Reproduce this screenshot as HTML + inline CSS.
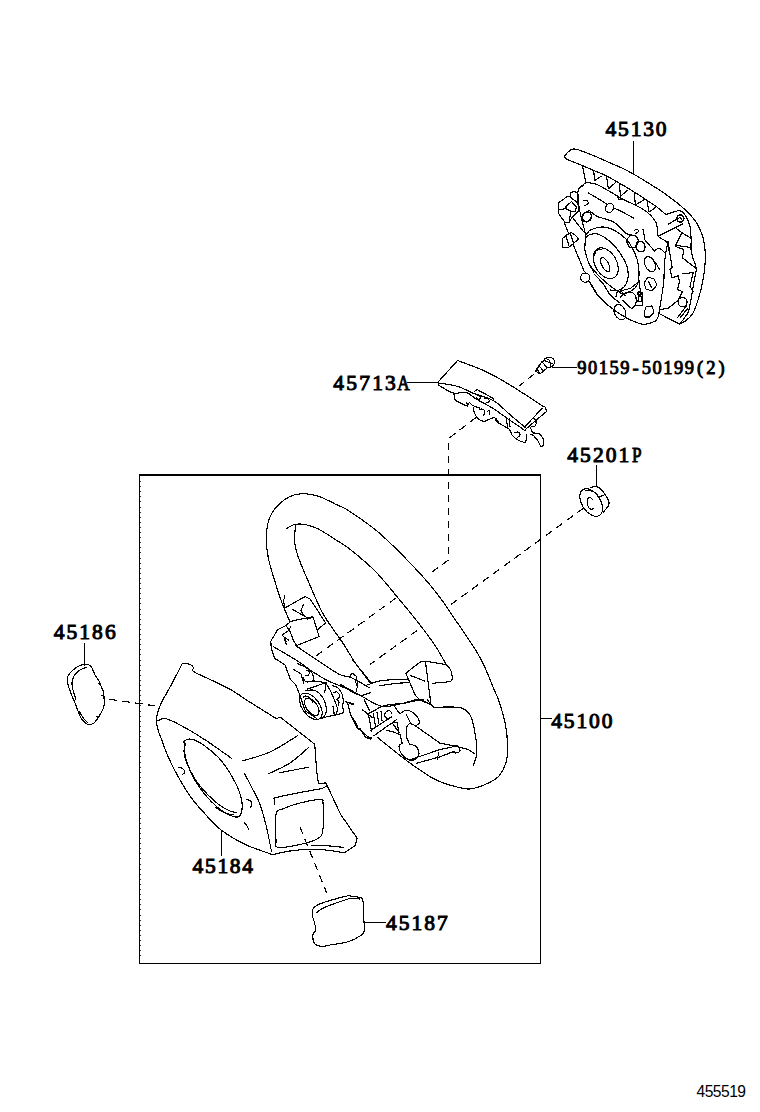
<!DOCTYPE html>
<html><head><meta charset="utf-8">
<style>
html,body{margin:0;padding:0;background:#fff;width:760px;height:1112px;overflow:hidden}
svg{display:block;shape-rendering:crispEdges}
.lb{font-family:"Liberation Serif",serif;font-size:21.5px;fill:#000;stroke:#000;stroke-width:0.8}
.ln{stroke:#000;stroke-width:1.15;fill:none;stroke-linejoin:round;stroke-linecap:round}
.lw{stroke:#000;stroke-width:1.15;fill:#fff;stroke-linejoin:round;stroke-linecap:round}
.th{stroke:#000;stroke-width:1.6;fill:none;stroke-linejoin:round;stroke-linecap:round}
.ds{stroke:#000;stroke-width:1.15;fill:none;stroke-dasharray:7.6 5.4}
</style></head><body>
<svg width="760" height="1112" viewBox="0 0 760 1112">
<!-- 00_frame.py -->
<path d="M139.5 963.2 V474.8" stroke="#000" stroke-width="1.3" fill="none"/>
<path d="M139 475 H541" stroke="#000" stroke-width="1.9" fill="none"/>
<path d="M540.4 474 V963.7 M139 963.2 H541" stroke="#000" stroke-width="1.4" fill="none"/>
<path d="M140 481.5 h1.2 M140 486.6 h1.2 M140 491.7 h1.2 M140 496.8 h1.2 M140 501.9 h1.2 M140 507.0 h1.2 M140 512.1 h1.2 M140 517.2 h1.2 M140 522.3 h1.2 M140 527.4 h1.2 M140 532.5 h1.2 M140 537.6 h1.2 M140 542.7 h1.2 M140 547.8 h1.2 M140 552.9 h1.2 M140 558.0 h1.2 M140 563.1 h1.2 M140 568.2 h1.2 M140 573.3 h1.2 M140 578.4 h1.2 M140 583.5 h1.2 M140 588.6 h1.2 M140 593.7 h1.2 M140 598.8 h1.2 M140 603.9 h1.2 M140 609.0 h1.2 M140 614.1 h1.2 M140 619.2 h1.2 M140 624.3 h1.2 M140 629.4 h1.2 M140 634.5 h1.2 M140 639.6 h1.2 M140 644.7 h1.2 M140 649.8 h1.2 M140 654.9 h1.2 M140 660.0 h1.2 M140 665.1 h1.2 M140 670.2 h1.2 M140 675.3 h1.2 M140 680.4 h1.2 M140 685.5 h1.2 M140 690.6 h1.2 M140 695.7 h1.2 M140 700.8 h1.2 M140 705.9 h1.2 M140 711.0 h1.2 M140 716.1 h1.2 M140 721.2 h1.2 M140 726.3 h1.2 M140 731.4 h1.2 M140 736.5 h1.2 M140 741.6 h1.2 M140 746.7 h1.2 M140 751.8 h1.2 M140 756.9 h1.2 M140 762.0 h1.2 M140 767.1 h1.2 M140 772.2 h1.2 M140 777.3 h1.2 M140 782.4 h1.2 M140 787.5 h1.2 M140 792.6 h1.2 M140 797.7 h1.2 M140 802.8 h1.2 M140 807.9 h1.2 M140 813.0 h1.2 M140 818.1 h1.2 M140 823.2 h1.2 M140 828.3 h1.2 M140 833.4 h1.2 M140 838.5 h1.2 M140 843.6 h1.2 M140 848.7 h1.2 M140 853.8 h1.2 M140 858.9 h1.2 M140 864.0 h1.2 M140 869.1 h1.2 M140 874.2 h1.2 M140 879.3 h1.2 M140 884.4 h1.2 M140 889.5 h1.2 M140 894.6 h1.2 M140 899.7 h1.2 M140 904.8 h1.2 M140 909.9 h1.2 M140 915.0 h1.2 M140 920.1 h1.2 M140 925.2 h1.2 M140 930.3 h1.2 M140 935.4 h1.2 M140 940.5 h1.2 M140 945.6 h1.2 M140 950.7 h1.2 M140 955.8 h1.2" stroke="#000" stroke-width="0.8" fill="none"/>
<text class="lb" text-anchor="middle" transform="translate(610.95 135.5) scale(1.0 1)" style="font-size:21.5px;stroke-width:1.0px">4</text>
<text class="lb" text-anchor="middle" transform="translate(623.47 135.5) scale(1.0 1)" style="font-size:21.5px;stroke-width:1.0px">5</text>
<text class="lb" text-anchor="middle" transform="translate(636.00 135.5) scale(1.0 1)" style="font-size:21.5px;stroke-width:1.0px">1</text>
<text class="lb" text-anchor="middle" transform="translate(648.53 135.5) scale(1.0 1)" style="font-size:21.5px;stroke-width:1.0px">3</text>
<text class="lb" text-anchor="middle" transform="translate(661.05 135.5) scale(1.0 1)" style="font-size:21.5px;stroke-width:1.0px">0</text>
<text class="lb" text-anchor="middle" transform="translate(338.64 390) scale(1.0 1)" style="font-size:21.5px;stroke-width:1.0px">4</text>
<text class="lb" text-anchor="middle" transform="translate(351.61 390) scale(1.0 1)" style="font-size:21.5px;stroke-width:1.0px">5</text>
<text class="lb" text-anchor="middle" transform="translate(364.57 390) scale(1.0 1)" style="font-size:21.5px;stroke-width:1.0px">7</text>
<text class="lb" text-anchor="middle" transform="translate(377.53 390) scale(1.0 1)" style="font-size:21.5px;stroke-width:1.0px">1</text>
<text class="lb" text-anchor="middle" transform="translate(390.49 390) scale(1.0 1)" style="font-size:21.5px;stroke-width:1.0px">3</text>
<text class="lb" text-anchor="middle" transform="translate(403.45 390) scale(0.8 1)" style="font-size:21.5px;stroke-width:1.0px">A</text>
<text class="lb" text-anchor="middle" transform="translate(581.75 373.7) scale(1.0 1)" style="font-size:18.5px;stroke-width:0.9px">9</text>
<text class="lb" text-anchor="middle" transform="translate(592.51 373.7) scale(1.0 1)" style="font-size:18.5px;stroke-width:0.9px">0</text>
<text class="lb" text-anchor="middle" transform="translate(603.26 373.7) scale(1.0 1)" style="font-size:18.5px;stroke-width:0.9px">1</text>
<text class="lb" text-anchor="middle" transform="translate(614.01 373.7) scale(1.0 1)" style="font-size:18.5px;stroke-width:0.9px">5</text>
<text class="lb" text-anchor="middle" transform="translate(624.77 373.7) scale(1.0 1)" style="font-size:18.5px;stroke-width:0.9px">9</text>
<text class="lb" text-anchor="middle" transform="translate(635.52 373.7) scale(1.0 1)" style="font-size:18.5px;stroke-width:0.9px">-</text>
<text class="lb" text-anchor="middle" transform="translate(646.27 373.7) scale(1.0 1)" style="font-size:18.5px;stroke-width:0.9px">5</text>
<text class="lb" text-anchor="middle" transform="translate(657.03 373.7) scale(1.0 1)" style="font-size:18.5px;stroke-width:0.9px">0</text>
<text class="lb" text-anchor="middle" transform="translate(667.78 373.7) scale(1.0 1)" style="font-size:18.5px;stroke-width:0.9px">1</text>
<text class="lb" text-anchor="middle" transform="translate(678.53 373.7) scale(1.0 1)" style="font-size:18.5px;stroke-width:0.9px">9</text>
<text class="lb" text-anchor="middle" transform="translate(689.29 373.7) scale(1.0 1)" style="font-size:18.5px;stroke-width:0.9px">9</text>
<text class="lb" text-anchor="middle" transform="translate(700.04 373.7) scale(1.0 1)" style="font-size:18.5px;stroke-width:0.9px">(</text>
<text class="lb" text-anchor="middle" transform="translate(710.79 373.7) scale(1.0 1)" style="font-size:18.5px;stroke-width:0.9px">2</text>
<text class="lb" text-anchor="middle" transform="translate(721.54 373.7) scale(1.0 1)" style="font-size:18.5px;stroke-width:0.9px">)</text>
<text class="lb" text-anchor="middle" transform="translate(572.65 461.9) scale(1.0 1)" style="font-size:21.5px;stroke-width:1.0px">4</text>
<text class="lb" text-anchor="middle" transform="translate(585.47 461.9) scale(1.0 1)" style="font-size:21.5px;stroke-width:1.0px">5</text>
<text class="lb" text-anchor="middle" transform="translate(598.29 461.9) scale(1.0 1)" style="font-size:21.5px;stroke-width:1.0px">2</text>
<text class="lb" text-anchor="middle" transform="translate(611.11 461.9) scale(1.0 1)" style="font-size:21.5px;stroke-width:1.0px">0</text>
<text class="lb" text-anchor="middle" transform="translate(623.93 461.9) scale(1.0 1)" style="font-size:21.5px;stroke-width:1.0px">1</text>
<text class="lb" text-anchor="middle" transform="translate(636.75 461.9) scale(0.8 1)" style="font-size:21.5px;stroke-width:1.0px">P</text>
<text class="lb" text-anchor="middle" transform="translate(59.15 639.3) scale(1.0 1)" style="font-size:21.5px;stroke-width:1.0px">4</text>
<text class="lb" text-anchor="middle" transform="translate(71.92 639.3) scale(1.0 1)" style="font-size:21.5px;stroke-width:1.0px">5</text>
<text class="lb" text-anchor="middle" transform="translate(84.70 639.3) scale(1.0 1)" style="font-size:21.5px;stroke-width:1.0px">1</text>
<text class="lb" text-anchor="middle" transform="translate(97.48 639.3) scale(1.0 1)" style="font-size:21.5px;stroke-width:1.0px">8</text>
<text class="lb" text-anchor="middle" transform="translate(110.25 639.3) scale(1.0 1)" style="font-size:21.5px;stroke-width:1.0px">6</text>
<text class="lb" text-anchor="middle" transform="translate(197.94 872.7) scale(1.0 1)" style="font-size:21.5px;stroke-width:1.0px">4</text>
<text class="lb" text-anchor="middle" transform="translate(210.35 872.7) scale(1.0 1)" style="font-size:21.5px;stroke-width:1.0px">5</text>
<text class="lb" text-anchor="middle" transform="translate(222.75 872.7) scale(1.0 1)" style="font-size:21.5px;stroke-width:1.0px">1</text>
<text class="lb" text-anchor="middle" transform="translate(235.15 872.7) scale(1.0 1)" style="font-size:21.5px;stroke-width:1.0px">8</text>
<text class="lb" text-anchor="middle" transform="translate(247.56 872.7) scale(1.0 1)" style="font-size:21.5px;stroke-width:1.0px">4</text>
<text class="lb" text-anchor="middle" transform="translate(391.25 930.4) scale(1.0 1)" style="font-size:21.5px;stroke-width:1.0px">4</text>
<text class="lb" text-anchor="middle" transform="translate(404.05 930.4) scale(1.0 1)" style="font-size:21.5px;stroke-width:1.0px">5</text>
<text class="lb" text-anchor="middle" transform="translate(416.85 930.4) scale(1.0 1)" style="font-size:21.5px;stroke-width:1.0px">1</text>
<text class="lb" text-anchor="middle" transform="translate(429.65 930.4) scale(1.0 1)" style="font-size:21.5px;stroke-width:1.0px">8</text>
<text class="lb" text-anchor="middle" transform="translate(442.45 930.4) scale(1.0 1)" style="font-size:21.5px;stroke-width:1.0px">7</text>
<text class="lb" text-anchor="middle" transform="translate(556.55 727.6) scale(1.0 1)" style="font-size:21.5px;stroke-width:1.0px">4</text>
<text class="lb" text-anchor="middle" transform="translate(569.17 727.6) scale(1.0 1)" style="font-size:21.5px;stroke-width:1.0px">5</text>
<text class="lb" text-anchor="middle" transform="translate(581.80 727.6) scale(1.0 1)" style="font-size:21.5px;stroke-width:1.0px">1</text>
<text class="lb" text-anchor="middle" transform="translate(594.43 727.6) scale(1.0 1)" style="font-size:21.5px;stroke-width:1.0px">0</text>
<text class="lb" text-anchor="middle" transform="translate(607.05 727.6) scale(1.0 1)" style="font-size:21.5px;stroke-width:1.0px">0</text>
<text transform="translate(696.5 1097.2)" style="font-family:'Liberation Sans',sans-serif;font-size:15.6px;letter-spacing:-0.5px" fill="#000">455519</text>
<path class="ln" d="M633.3 142 V173" />
<path class="ln" d="M408 382.6 H438" />
<path class="ln" d="M552.6 367.5 H576.5" />
<path class="ln" d="M596.6 465.5 V486.5" />
<path class="ln" d="M84.6 644 V665" />
<path class="ln" d="M221.1 830 V855.5" />
<path class="ln" d="M364.5 922.8 H386" />
<path class="ln" d="M540.5 718.4 H551" />
<!-- 05_dash.py -->
<path class="ds" d="M476 417.5 L448.4 438.7 V560 L432 572" />
<path class="ds" d="M396 598 L316 656" />
<path class="ds" d="M583.4 508.2 L451 604.5" />
<path class="ds" d="M417 630.5 L370 664.5" />
<path class="ds" d="M534 374.2 L519 386" />
<path class="ds" d="M109.3 699.3 L156 706" />
<path class="ds" d="M300 827 L326.8 893.2" />
<!-- 10_wheel.py -->
<path class="ln" d="M290 622 C288.7 618.8 284.4 609.5 282 603 C279.6 596.5 277.6 590.4 275.4 583 C273.1 575.6 270 566.3 268.5 558.7 C267 551.1 266 544.4 266.2 537.6 C266.4 530.8 267.6 523.3 269.5 518 C271.4 512.7 274.1 509.5 277.4 506 C280.7 502.5 285 498.9 289.2 496.8 C293.4 494.7 297.6 493.7 302.4 493.6 C307.2 493.5 312.5 494.4 318.2 496.2 C323.9 498 331.3 502.1 336.6 504.7 C341.9 507.2 343.2 507 350 511.5 C356.8 516 368.8 524.3 377.6 531.6 C386.4 538.9 394.9 547.6 402.6 555.3 C410.3 563 417.3 570.4 423.7 577.6 C430.1 584.8 435.9 592.2 440.8 598.7 C445.7 605.2 447.6 608.5 452.9 616.3 C458.2 624.1 467.6 637.4 472.6 645.3 C477.7 653.2 479.7 656.5 483.2 663.7 C486.7 670.9 491.1 682.5 493.7 688.7 C496.3 694.9 496.9 695 498.9 701 C500.9 707 504.1 717.2 505.5 724.7 C506.9 732.2 507.4 739.6 507.5 745.8 C507.6 751.9 507.6 756.6 506.2 761.6 C504.8 766.6 502 772.4 498.9 776 C495.8 779.6 492.2 781.3 487.4 783.5 C482.6 785.7 475.3 788.5 470 789 C464.7 789.5 460.3 787.8 455.5 786.6 C450.7 785.4 445.2 783.7 441 782 C436.8 780.3 435.5 780 430 776.6 C424.5 773.2 416.7 768.2 407.9 761.6 C399.1 755 382.2 741.2 377.1 737.1" />
<path class="ln" d="M286.6 528.4 C287.9 527.8 291.4 525.1 294.5 524.5 C297.6 523.9 301.1 523.8 305 524.5 C308.9 525.2 312.9 526.4 318.2 529 C323.5 531.6 331.3 536.9 336.6 540.3 C341.9 543.7 343.6 544.2 350 549.3 C356.4 554.4 366.9 562.8 375 571 C383.1 579.2 391.2 589.7 398.7 598.7 C406.2 607.7 413.8 616.9 420 624.9 C426.2 632.9 431.4 639.9 435.8 646.6 C440.2 653.3 444.6 661.9 446.3 665" />
<path class="ln" d="M295.8 525 C295.6 527.5 294.1 534.9 294.5 540.3 C294.9 545.7 296 550.3 298.4 557.4 C300.8 564.5 305.2 574.2 309 583 C312.8 591.8 317.7 603.3 321 610 C324.3 616.7 325.2 617.5 329 623.2 C332.8 628.9 339 637.2 343.5 644 C348 650.8 351.5 657.5 356 664 C360.5 670.5 368.1 680 370.5 683.2" />
<path class="ln" d="M434.2 707.9 C435.5 707.8 437.6 707.1 442.1 707.1 C446.6 707.1 456.3 706.5 461 707.9 C465.7 709.3 468.1 711.3 470.5 715.8 C472.9 720.3 474.2 728.4 475.3 734.7 C476.4 741 477.1 748.6 476.8 753.7 C476.5 758.8 473.9 763.5 473.3 765.5" />
<!-- 11_hub.py -->
<path class="ln" d="M285 595 L283.4 601.3 L285 608" />
<path class="ln" d="M285.5 607.6 L305 596.6 L310.3 599.2 L325.5 622.9 L317.6 629.7" />
<path class="ln" d="M290.8 621.3 L312.9 616.6 L319.2 636.6 L296.6 645.5 L293.4 640.3 L289.7 630.8 L286 625.5" />
<path class="ln" d="M292.4 609.2 L305 616.6 L300.8 610.8 L303.4 604.5" />
<path class="ln" d="M307.1 619.2 L312.9 617.1" />
<path class="ln" d="M290.8 621.3 L286 625.5 L277.6 629.7 L270.8 641.3 L271.3 648.7 L274.5 658.2 L285 665 L290.5 679.5 L295.8 684.7 L301 698.4 L305.3 711 L316.8 718.4" />
<path class="ln" d="M291 626.2 L288.3 630.8 L283.1 634.1 L282.4 635.4 L284.4 637.4 L286.3 644.6" />
<path class="ln" d="M285 637.4 L288.3 640" />
<path class="ln" d="M284.5 640.5 L287 642" />
<path class="ln" d="M273.4 646.6 C277.8 649.2 293.3 658.3 299.7 662.4 C306.1 666.5 307 668 311.6 671 C316.2 674 321.8 677.7 327.4 680.5 C333 683.3 339.6 685.5 345 688 C350.4 690.5 355.8 694.5 360 695.3 C364.2 696.1 368.8 693 370.5 692.6" />
<path class="ln" d="M295.5 645.5 C299.2 648 310.4 655.5 317.6 660.3 C324.9 665.1 333.5 671.4 339 674.2 C344.5 677.1 346.1 675.5 350.5 677.4 C354.9 679.2 362.1 683.5 365.3 685.3 C368.5 687 368.8 687.5 369.5 687.9" />
<path class="ln" d="M349 678 L352 673 L356 676 L358 684 L356 692" />
<path class="ln" d="M355 680 L357 686" />
<ellipse class="ln" cx="310.9" cy="706.4" rx="15.2" ry="8.6" transform="rotate(54 310.9 706.4)"/>
<ellipse class="ln" cx="311.8" cy="706.8" rx="10" ry="5.4" transform="rotate(54 311.8 706.8)"/>
<path class="ln" d="M303.5 697 C303.9 696.8 304.9 695.8 306 696 C307.1 696.2 308.8 696.8 310 698 C311.2 699.2 312.5 702.2 313 703" />
<path class="ln" d="M305.8 690.5 C307.4 690.5 312.4 689.2 315.3 690.5 C318.2 691.8 321.4 695.5 323.2 698.4 C325 701.3 326.1 705 326.3 707.9 C326.6 710.8 325.8 713.9 324.7 715.8 C323.6 717.6 320.8 718.5 320 719" />
<path class="ln" d="M312.1 681 C313.4 681.1 317.6 681 320 681.5 C322.4 682 324.5 682.4 326.3 684.2 C328.1 686 329.4 688.9 331 692.1 C332.6 695.3 334.7 700.3 335.8 703.2 C336.9 706.1 337.4 707.5 337.4 709.5 C337.4 711.5 336.2 714.1 336 715" />
<path class="ln" d="M307.4 689 L316.8 685.8 L326.3 682.6" />
<path class="ln" d="M326.3 682.6 L324.7 692.1" />
<path class="ln" d="M320 719 L326 717 L336 715 L343.7 712.6 L342.1 703.2" />
<path class="ln" d="M334.2 714.2 L333 706" />
<path class="ln" d="M345.3 701.6 L353.2 704.7" />
<path class="ln" d="M297.9 663.7 C299.5 664.5 305 666.8 307.4 668.4 C309.8 670 311.2 671.2 312.1 673.2 C313 675.2 313.9 678.9 312.9 680.3 C311.8 681.7 307.4 682.2 305.8 681.8 C304.2 681.4 303.8 678.5 303.4 677.9" />
<path class="ln" d="M306 670 C306.5 670.2 308.6 670.7 309 671.5 C309.4 672.3 309.2 674.2 308.5 675 C307.8 675.8 305.6 675.8 305 676" />
<path class="ln" d="M293 669 L301 674 L304 684" />
<path class="ln" d="M332.6 685.8 C333.5 686.2 336.4 686.6 338 688 C339.6 689.4 341.1 691.5 342 694 C342.9 696.5 343.4 701.7 343.7 703.2" />
<path class="ln" d="M333 693 C333.7 692.8 335.9 691.5 337 692 C338.1 692.5 339.5 694.7 339.5 696 C339.5 697.3 337.4 699.3 337 700" />
<path class="ln" d="M336 699 C336.5 699.5 338.7 700.8 339 702 C339.3 703.2 338.2 705.3 338 706" />
<path class="ln" d="M347.4 702.1 L350.5 714.7 L356.8 727.4 L369.5 737.9 L371.6 738" />
<path class="ln" d="M352.6 717.4 L357.9 726.8" />
<path class="ln" d="M347 702 L354 704" />
<path class="ln" d="M366.3 685.3 C368.9 684.5 375.2 681.5 382.1 680.5 C389 679.5 403.2 679.7 407.4 679.5" />
<path class="ln" d="M380 685.8 C382.5 685.4 390.1 684 395 683.5 C399.9 683 407.1 682.8 409.5 682.6" />
<path class="ln" d="M361 695.8 L370.5 692.6" />
<path class="ln" d="M340 684.2 L361 695.8" />
<path class="ln" d="M361 695.8 C364.5 697.5 375.1 705.1 382.1 706.3 C389.1 707.5 397.1 704.3 403.2 703.2 C409.3 702.1 414.4 699.2 419 699.5 C423.6 699.8 429 703.8 431 704.7" />
<path class="ln" d="M352.6 660 L371.6 683.2" />
<path class="ln" d="M405.8 673.2 L420 662.1 L426.3 661.3 L445.3 664.5" />
<path class="ln" d="M445.3 664.5 C446 665.1 448.4 666.4 449.5 668 C450.6 669.6 451.5 671.8 451.8 674 C452.1 676.2 453.2 679.6 451.2 681 C449.2 682.4 443.1 682.1 440 682.5 C436.9 682.9 433.8 683.2 432.6 683.4" />
<path class="ln" d="M405.8 673.2 L415.3 695.3 L420 700 L431 704.7" />
<path class="ln" d="M425.5 662.1 L431 704.7" />
<path class="ln" d="M410.5 675.5 L424.7 681" />
<path class="ln" d="M374.7 710.5 C375.9 709.8 378.9 707.3 382.1 706.3 C385.3 705.2 390 704.7 393.7 704.2 C397.4 703.7 400.7 703.7 404.2 703.2 C407.7 702.7 411.5 701.5 414.7 701 C417.9 700.5 421.8 700.2 423.2 700" />
<path class="ln" d="M427.4 700 L433.7 707.4 L440 707.4" />
<path class="ln" d="M368.4 713.7 L374.7 710.5" />
<path class="ln" d="M368.4 713.7 L371.6 731.6" />
<path class="ln" d="M370.5 730.5 L391.6 716.8" />
<path class="ln" d="M373.7 735.8 L396.8 719.5" />
<path class="ln" d="M373.5 714 L375.5 726" />
<path class="ln" d="M377 712.5 L379 724" />
<path class="ln" d="M381 711 L382 721" />
<path class="ln" d="M389 720 C388.2 719.3 385 717.3 384.5 716 C384 714.7 385.1 712.8 386 712 C386.9 711.2 389 710.7 390 711 C391 711.3 391.7 713.5 392 714" />
<path class="ln" d="M393.7 705.3 L399 712.6" />
<path class="ln" d="M362.1 709.5 L372.6 717.9" />
<path class="ln" d="M364.2 700 L369.5 710.5" />
<path class="ln" d="M400 713.7 C400.9 713.2 403.4 710.9 405.3 710.5 C407.2 710.1 409.5 710.4 411.6 711.6 C413.7 712.8 416.7 715.8 417.9 717.9 C419.1 720 419.5 723 419 724.2 C418.5 725.4 415.4 725.1 414.7 725.3" />
<path class="ln" d="M414.7 725.3 L409.5 723.2 L406.3 727.4 L406.3 736.8 L409.5 744.2" />
<path class="ln" d="M409.5 744.2 C410.6 744.6 414.2 744.7 415.8 746.3 C417.4 747.9 419 751.6 419 753.7 C419 755.8 417.4 757.9 415.8 758.9 C414.2 759.9 411.8 760.7 409.5 760 C407.2 759.3 403.9 757 402.1 754.7 C400.3 752.4 398.9 748.2 398.9 746.3 C398.9 744.4 401.6 743.7 402.1 743.2" />
<path class="ln" d="M402.1 743.2 L400 734.7 L392.6 731.6 L386.3 730.5" />
<path class="ln" d="M406.3 714.7 L410.5 723.2" />
<path class="ln" d="M392.6 723.2 L399 732.6" />
<path class="ln" d="M393 723 L397 722 L399 732.6" />
<path class="ln" d="M414.7 725.3 L440 743.2 L455 746 L468 749.5 L474.7 753.7" />
<path class="ln" d="M409.5 760 L440 749.5 L452 747" />
<path class="ln" d="M416.8 763.2 L440 756.8 L455 751" />
<path class="ln" d="M452 747 C453 746.8 456.7 745.3 458 746 C459.3 746.7 460.3 749.8 460 751 C459.7 752.2 457.3 752.8 456 753 C454.7 753.2 452.7 752.2 452 752" />
<path class="ln" d="M439 752 L437 760" />
<path class="ln" d="M360 728.4 C360.9 729.8 363.6 735 365.3 736.8 C367.1 738.6 369.6 738.6 370.5 739" />
<!-- 20_cover184.py -->
<path class="ln" d="M182.4 663.4 C183.6 663.5 187.7 663.5 189.5 664.2 C191.3 664.9 192.9 666.4 193.4 667.4 C193.9 668.4 192.2 669.6 192.6 670.5 C193 671.4 195.3 672.5 195.8 672.9" />
<path class="ln" d="M195.8 672.9 C201.3 675.5 220.5 684.2 229 688.7 C237.5 693.2 238.8 695 246.6 700 C254.4 705 271.1 715.3 276 718.4" />
<path class="ln" d="M276 718.4 L280.7 717.5 L314.7 744.2" />
<path class="ln" d="M182.4 663.4 C180.4 667.2 174.1 679.6 170.5 686.3 C166.9 693 163.4 698.2 161 703.7 C158.6 709.2 156.7 714.8 156.3 719.5 C155.9 724.2 157.8 728.7 158.7 732.1 C159.6 735.5 160.6 736.9 161.8 740 C163 743.1 163.8 746.3 165.8 751 C167.8 755.7 169.8 761 173.7 768.4 C177.6 775.8 184.2 787.7 189.5 795.3 C194.8 802.9 200 808.4 205.3 814.2 C210.6 820 214.5 825 221.1 830 C227.7 835 236.5 840.2 244.7 844.2 C252.8 848.2 265.4 852 270 853.7 C274.6 855.5 272 854.5 272.4 854.7" />
<path class="ln" d="M157.1 721 C158.6 720.6 161.7 717.9 165.8 718.7 C169.9 719.5 175 722.2 181.6 725.8 C188.2 729.3 197 734.6 205.3 740 C213.6 745.4 227 755.2 231.3 758.2" />
<path class="ln" d="M184 741.6 C184.4 744.8 184.1 753.4 186.3 760.5 C188.5 767.6 192.4 776.6 197.4 784.2 C202.4 791.8 210.2 800.9 216.3 806.3 C222.4 811.7 229.6 815.3 233.7 816.6 C237.8 817.9 239.5 817 240.8 814.2 C242.1 811.4 242.5 805.3 241.6 800 C240.7 794.7 238.7 789.2 235.3 782.6 C231.9 776 226.1 766.5 221.1 760.5 C216.1 754.5 209.8 749.7 205.3 746.3 C200.8 742.9 197.1 741.2 194.2 740 C191.3 738.8 189.6 738.9 187.9 739.2 C186.2 739.5 184.7 741.2 184 741.6" />
<path class="ln" d="M185.5 744 C185.2 745.3 183.6 748.3 184 752 C184.4 755.7 185.3 760.3 188 766 C190.7 771.7 195 779.7 200 786 C205 792.3 213 799.8 218 804 C223 808.2 227 809.6 230 811 C233 812.4 235 812.2 236 812.5" />
<path class="ln" d="M215 807 C216.7 808 221.8 811.7 225 813 C228.2 814.3 232.5 814.7 234 815" />
<path class="ln" d="M178.5 767.5 C179.2 767.7 181.4 767.8 182.5 768.5 C183.6 769.2 185.1 770.9 185 772 C184.9 773.1 182.5 774.5 182 775" />
<path class="ln" d="M246.5 799.5 C247.2 799.8 249.6 800.1 250.5 801 C251.4 801.9 252.1 803.8 252 805 C251.9 806.2 250.3 807.5 250 808" />
<path class="ln" d="M244 822 C244.5 822.7 246.2 824.7 247 826 C247.8 827.3 248.7 829.3 249 830" />
<path class="ln" d="M244.7 773.7 C245.9 776.1 249.5 783.1 252 788 C254.5 792.9 257.2 797 259.5 803.2 C261.8 809.4 264 817 266 825 C268 833 270.5 846.7 271.4 851" />
<path class="ln" d="M242.9 760.8 C247.4 759.3 260.9 756.1 270 752 C279.1 747.9 292.7 738.6 297.2 735.9" />
<path class="ln" d="M268.7 773.7 C272.2 771.9 283.2 767.5 290 763 C296.8 758.5 306 749.7 309.2 747" />
<path class="ln" d="M279.7 772.8 L308.3 767.2" />
<path class="ln" d="M314.7 744.2 L316.6 770 L318.4 783.8 L325.8 782.9 L327.6 786.6 L340.5 814.2 L357.1 838.2 L355.3 845.5 L344.2 852.9" />
<path class="ln" d="M344.2 852.9 C341.8 852.5 335.5 851.1 330 850.5 C324.5 849.9 317.7 849.1 311 849.2 C304.3 849.3 296.4 850.1 290 851 C283.6 851.9 275.3 854.1 272.4 854.7" />
<path class="ln" d="M274.2 805 C274.2 804.1 273.9 800.7 274.2 799.5 C274.5 798.3 271.7 798.8 276 797.6 C280.3 796.4 292.3 794 300 792.5 C307.7 791 317.6 789.5 322 788.4 C326.4 787.3 325.9 786.2 326.7 785.7" />
<path class="ln" d="M276 841.8 C276 837.2 274.8 819.7 276 814.2 C277.2 808.7 279.4 810.6 283.4 808.7 C287.4 806.8 293.9 804.5 300 803 C306.1 801.5 316.5 799.5 320.3 799.5 C324.1 799.5 322.6 798.3 323 803.2 C323.4 808.1 323.8 823.2 323 829 C322.2 834.8 322.2 835.6 318.4 838.2 C314.6 840.8 306.8 843 300 844.5 C293.2 846 281.9 847.9 277.9 847.4 C273.9 846.9 276.3 842.7 276 841.8" />
<path class="ln" d="M312 845.5 C315 845.6 324.8 845.7 330 846 C335.2 846.3 341.1 847.2 343.3 847.4" />
<!-- 21_cover186_187.py -->
<path class="ln" d="M84 664.5 C85.8 664.2 87.7 664.4 89 665 C90.3 665.6 91 666.3 92 668 C93 669.7 93.9 673 95 675 C96.1 677 97.5 678.2 98.5 680 C99.5 681.8 100.2 684 101 686 C101.8 688 103 690 103.5 692 C104 694 103.9 695.7 104 698 C104.1 700.3 104.5 703.5 104 706 C103.5 708.5 102 711 101 713 C100 715 99.2 716.3 98 718 C96.8 719.7 95.4 721.9 94 723 C92.6 724.1 90.8 724.4 89.5 724.5 C88.2 724.6 87.4 724.6 86 723.5 C84.6 722.4 82.3 720.1 81 718 C79.7 715.9 79 713.5 78 711 C77 708.5 76 705.5 75 703 C74 700.5 73 698.5 72 696 C71 693.5 69.8 690.3 69 688 C68.2 685.7 67.7 684 67.5 682 C67.3 680 67.2 677.8 68 676 C68.8 674.2 70.3 672.6 72 671 C73.7 669.4 76 667.6 78 666.5 C80 665.4 82.2 664.8 84 664.5Z" />
<path class="ln" d="M87 667 C85.8 667.5 82.2 668.5 80 670 C77.8 671.5 75.3 673.8 74 676 C72.7 678.2 72.2 680.7 72 683 C71.8 685.3 72.3 687.2 73 690 C73.7 692.8 75.5 698.3 76 700" />
<path class="ln" d="M79 711 C79.8 712.3 82.5 717 84 719 C85.5 721 87.3 722.3 88 723" />
<path class="ln" d="M98 683 L101 685" />
<path class="ln" d="M101 695 L104 696" />
<path class="ln" d="M96 716 L99 718" />
<path class="ln" d="M313 909 C313.9 907.2 314.8 906.4 317.6 905 C320.4 903.6 324.9 902 330 900.5 C335.1 899 344.3 896.5 347.9 895.8 C351.5 895.1 349.6 896.1 351.8 896.4 C354 896.7 359.1 897 361 897.8 C362.9 898.6 362.6 898.1 363 901 C363.4 903.9 363.3 910.2 363.5 915 C363.7 919.8 364.7 926.6 364.3 930 C363.9 933.4 363.7 933.3 361 935.3 C358.3 937.3 353.1 940.2 347.9 941.8 C342.7 943.4 334.4 944.2 330 945 C325.6 945.8 324.2 946.7 321.6 946.4 C319 946.1 315.7 945.3 314.3 943.2 C312.9 941.1 312.8 936.2 313 934 C313.2 931.8 315.5 932 315.7 930 C315.9 928 314.9 924.5 314.3 922.1 C313.8 919.7 312.6 917.7 312.4 915.5 C312.2 913.3 312.1 910.8 313 909Z" />
<path class="ln" d="M316.3 912.9 C317.6 912 318.9 909.9 324.2 907.6 C329.5 905.3 343.3 900.5 347.9 899 C352.5 897.5 349.8 898.4 351.8 898.4 C353.8 898.4 358.6 898.9 360 899" />
<!-- 30_smallparts.py -->
<path class="ln" d="M437.6 382.5 L457.6 360.5" />
<path class="ln" d="M457.6 360.5 C461.6 362 474.5 366.6 481.6 369.7 C488.7 372.8 493.3 375.2 500 379 C506.7 382.8 514.8 387.9 522 392.5 C529.2 397.1 539.7 404 543.2 406.3" />
<path class="ln" d="M543.2 406.3 L545.8 407.4 L546.3 411.6 L525.3 429.5" />
<path class="ln" d="M542.1 408.4 L524.2 427.4" />
<path class="ln" d="M437.6 382.8 C440.9 383.4 451.7 384.7 457.6 386.4 C463.5 388.1 466.8 390.6 472.8 393 C478.8 395.4 487.6 397.3 493.7 400.8 C499.8 404.3 504.2 409.7 509.5 414.2 C514.8 418.7 522.7 425.4 525.3 427.6" />
<path class="ln" d="M438.6 385.1 C441 386.4 448.4 391.8 453 393 C457.6 394.2 462.4 391.4 466.2 392.4 C470 393.4 471.7 396.3 476 398.9 C480.3 401.5 487.3 404.9 492.1 407.9 C496.9 410.8 499.2 412.8 504.7 416.6 C510.2 420.4 521.9 428.4 525.3 430.8" />
<path class="ln" d="M453.7 393 C453.8 393.6 454 395.1 454.3 396.3 C454.6 397.5 453.7 398.8 455.7 400.3 C457.7 401.8 463.9 405.1 466.2 405.5 C468.5 405.9 468.4 402.9 469.5 402.9 C470.6 402.9 471.1 404.6 472.8 405.5 C474.6 406.4 478.8 407.8 480 408.2" />
<path class="ln" d="M466.8 402 L467.5 406" />
<path class="ln" d="M474.5 391.5 L477 389.5 L493.5 398.5 L493.7 400.8" />
<path class="ln" d="M477 395 C477.5 395.2 479.6 395.8 480 396.5 C480.4 397.2 480.1 399.2 479.5 399.5 C478.9 399.8 477 398.2 476.5 398" />
<path class="ln" d="M484 398 C484.7 398.1 487.2 397.9 488 398.5 C488.8 399.1 489.3 400.8 489 401.5 C488.7 402.2 486.5 402.8 486 403" />
<path class="ln" d="M473.3 407.5 C473.4 408.3 473.6 410.4 474.2 412.1 C474.8 413.8 475.5 416.1 477 417.6 C478.5 419.1 481.4 421 483.4 421.3 C485.4 421.6 487.1 420.1 489 419.5 C490.9 418.9 493 417.3 494.5 417.6 C496 417.9 497.6 420.7 498.2 421.3" />
<path class="ln" d="M479 410 C479.5 409.8 481 408.7 482 409 C483 409.3 484.8 410.8 485 412 C485.2 413.2 483.3 415.3 483 416" />
<path class="ln" d="M487 412 L489 410 L490 415" />
<path class="ln" d="M495.8 420 C496.3 420.5 497.2 422 499 423.2 C500.8 424.4 504.6 426.3 506.3 427.4 C508.1 428.4 508.4 428.1 509.5 429.5 C510.6 430.9 511.2 434.1 512.6 435.8 C514 437.6 515.8 438.9 517.9 440 C520 441.1 523.9 443 525.3 442.1 C526.7 441.2 526.1 435.9 526.3 434.7" />
<path class="ln" d="M506.3 417.9 L507.4 426.3" />
<path class="ln" d="M509.5 419 L510 427" />
<path class="ln" d="M514 433 C514.7 432.8 517 431.7 518 432 C519 432.3 520.2 434 520 435 C519.8 436 517.5 437.5 517 438" />
<path class="ln" d="M530.5 427.4 C530.9 428.3 531.2 431.6 532.6 432.6 C534 433.7 537.2 432.6 539 433.7 C540.8 434.8 542.4 437.2 543.2 439 C544 440.8 544.1 443 543.7 444.2 C543.3 445.4 542 446.8 541 446.3 C540 445.8 539.1 442.8 537.9 441 C536.7 439.2 535 437 533.7 435.8 C532.4 434.6 530.6 434.3 530 434" />
<path class="ln" d="M533 418 C533.5 418.5 535.7 419.7 536 421 C536.3 422.3 535.8 425 535 426 C534.2 427 531.7 426.8 531 427" />
<ellipse class="lw" cx="548.7" cy="362.4" rx="6" ry="5" transform="rotate(-20 548.7 362.4)"/>
<path class="ln" d="M545.5 358.3 L549 360 L551 366" />
<path class="ln" d="M543 360 L553 364" />
<path class="lw" d="M542 361.5 L547 368 L540 374 L535.5 371Z" />
<path class="ln" d="M539 365.5 L542.5 370" />
<path class="ln" d="M536 368 L539.5 372.5" />
<path class="ln" d="M590.5 487.5 C591.5 487.3 594.7 485.9 596.6 486.4 C598.5 486.9 600.6 489.1 602 490.5 C603.4 491.9 603.9 492.9 605 494.5 C606.1 496.1 607.8 498.2 608.4 500 C609 501.8 609.5 503.5 608.6 505.5 C607.7 507.5 604.1 511 603.2 512.1" />
<path class="ln" d="M598 497.5 L605 494.5" />
<path class="ln" d="M598 497.5 L602 511" />
<ellipse class="lw" cx="591.2" cy="502.5" rx="9.3" ry="15.3" transform="rotate(-33 591.2 502.5)"/>
<path class="ln" d="M585 491 C585.6 490.8 587.2 489.8 588.5 490 C589.8 490.2 592.2 491.7 593 492" />
<path class="ln" d="M593 500 C592.5 499.6 590.9 497.5 590 497.5 C589.1 497.5 587.8 498.6 587.5 500 C587.2 501.4 587.4 504.4 588 506 C588.6 507.6 590 509.2 591 509.5 C592 509.8 593.5 508.2 594 508" />
<!-- 40_airbag.py -->
<path class="ln" d="M564.7 156.1 C565.2 155.4 566.7 153.2 568 152 C569.3 150.8 570.8 149.6 572.5 149.2 C574.2 148.8 574.5 148.6 578 149.7 C581.5 150.8 588.3 153.5 593.7 155.7 C599.1 157.9 605.1 160.7 610.3 163 C615.5 165.3 619.4 166.7 625 169.5 C630.6 172.3 636.6 175.8 643.7 180.1 C650.8 184.4 660.5 190.6 667.4 195.5 C674.3 200.4 680.4 205.3 685.1 209.7 C689.8 214 693 217.6 695.8 221.6 C698.6 225.6 700.2 229.5 701.7 233.4 C703.2 237.3 703.9 240.4 704.5 245 C705.1 249.6 705.6 254.8 705.3 261 C705 267.2 703.8 275.8 702.6 282.1 C701.5 288.4 700 293.8 698.4 298.9 C696.8 304 695.1 309.1 693.2 312.6 C691.3 316.1 689.1 318.1 686.8 320 C684.5 321.9 680.7 323.5 679.5 324.2" />
<path class="ln" d="M564.7 157 C565.1 157.4 564.3 158 567 159.3 C569.7 160.6 576.3 163.1 580.8 164.9 C585.2 166.8 589.4 168.6 593.7 170.4 C598 172.2 602.3 173.8 606.6 175.9 C610.9 178.1 615.3 180.9 619.5 183.3 C623.7 185.7 625.8 186.7 631.8 190.5 C637.8 194.3 649.8 201.9 655.5 206 C661.2 210.1 664.4 213.3 666.2 214.8" />
<path class="ln" d="M666.2 214.5 C667.4 214.1 670.9 212.7 673.3 212.1 C675.7 211.5 678.2 210.1 680.4 210.9 C682.6 211.7 684.7 214.2 686.3 216.8 C687.9 219.4 689.1 222.7 689.9 226.3 C690.7 229.9 690.9 234.2 691.1 238.2 C691.3 242.1 690.8 246.5 691.1 250 C691.5 253.5 692.3 255.9 693.2 259 C694.1 262.1 696.1 264.9 696.3 268.4 C696.5 271.9 695.1 274.9 694.2 280 C693.3 285.1 692.2 293.5 691.1 298.9 C690 304.3 689.8 308.4 687.9 312.6 C686 316.8 680.9 322.3 679.5 324.2" />
<path class="ln" d="M659.5 313.7 L679.5 324.2" />
<path class="ln" d="M586.3 182.4 C588 182.7 593 183 596.4 184.2 C599.8 185.4 603.1 187.7 606.6 189.7 C610.1 191.7 615 194.6 617.6 196.2 C620.2 197.8 618 196.8 622.4 199.1 C626.8 201.3 638.2 205.9 643.7 209.7 C649.2 213.4 653.1 217.4 655.5 221.6 C657.9 225.8 657.3 232 657.9 234.6 C658.5 237.2 657.5 235.6 659.1 237 C660.7 238.4 665.8 240.7 667.4 242.9 C669 245.1 668.4 248.8 668.6 250" />
<path class="ln" d="M617.6 196.2 L618.6 199.9 L621.3 199" />
<path class="ln" d="M593.7 170.4 L594.6 180.5 L602 175.9" />
<path class="ln" d="M606.6 176.8 L608.4 188.8 L615.8 182.4" />
<path class="ln" d="M619.5 184.2 L620.4 196.2 L628 190" />
<path class="ln" d="M634.2 192 L635.4 205 L644.9 199.1" />
<path class="ln" d="M647.2 201.4 L649 212.1 L655.5 207.4" />
<path class="ln" d="M582.6 166.7 L585.4 180.5 L586.3 182.4 L579 187.9 L578 191.6" />
<path class="ln" d="M578.7 189 L583.4 185" />
<path class="ln" d="M588.2 192.9 C589.7 193.8 594 196.2 597 198 C600 199.8 604.8 202.9 606.3 203.9" />
<path class="ln" d="M613.4 208 C614.5 208.4 616.6 209 620 210.7 C623.4 212.4 631.3 216.8 633.6 218" />
<ellipse class="ln" cx="609.5" cy="207.9" rx="3.9" ry="4.7" transform="rotate(20 609.5 207.9)"/>
<path class="ln" d="M558.2 203.2 L566.8 196.8 L570 196.8 L570.8 192.9 L573.9 191.3 L577.1 192.9 L577.9 203.2 L578.7 211.1 L571.6 218.2 L569.2 222.1 L565.3 222.9 L559 214.2 L558.2 208.7 L558.2 203.2" />
<path class="ln" d="M566 206.3 L571.6 201.6 L576.3 207.1 L575.5 211.1 L570.8 211.1 L566 208.7 L566 206.3" />
<path class="ln" d="M559.7 209.5 L566 208.7" />
<path class="ln" d="M570.8 211.1 L569.2 222.1" />
<path class="ln" d="M570 196.8 L574 200 L577.9 203.2" />
<path class="ln" d="M577.9 192.9 C578 194.9 578.2 200.8 578.7 204.7 C579.2 208.6 580 212 581 216.6 C582 221.2 584.3 227.7 585 232.4 C585.7 237.1 585 241.9 585 245 C585 248.1 584.3 247.7 585 250.8 C585.7 253.9 587.5 259.8 589 263.4 C590.5 266.9 592.9 270.7 593.7 272.1" />
<ellipse class="th" cx="587" cy="216.8" rx="4.3" ry="5" transform="rotate(20 587 216.8)"/>
<path class="ln" d="M585 212 L582 217 L583.5 221" />
<path class="ln" d="M572.4 217.4 L584.2 232.4" />
<path class="ln" d="M564.5 222.9 L568.4 233.2" />
<path class="ln" d="M583.4 200.8 C584 200.8 586.2 200.1 587 200.5 C587.8 200.9 588.5 202.7 588.2 203.5 C587.9 204.3 585.5 205.2 585 205.5" />
<path class="ln" d="M562.1 239 L562.1 247.6 L568.4 247.6 L573.2 243.7 L578.7 239 L574.7 234.5 L570.8 232.4 L566 235.5 L562.1 239" />
<path class="ln" d="M566 236 L569 246" />
<path class="ln" d="M570.5 234 L573.5 243" />
<path class="ln" d="M573.2 244.5 L584.2 271.3" />
<ellipse class="ln" cx="585.3" cy="277.6" rx="4.6" ry="4.6" transform="rotate(0 585.3 277.6)"/>
<path class="ln" d="M589.7 281.6 L597.6 295" />
<path class="ln" d="M589 210.3 C590.4 211.4 594.9 215.2 597.6 216.6 C600.4 218 602.6 217.9 605.5 219 C608.4 220.1 611.6 220.5 615 222.9 C618.4 225.3 622.9 231.3 626 233.4 C629.1 235.5 632.2 235 633.4 235.3" />
<path class="ln" d="M586.4 234.3 C587.2 233.5 588.2 230.9 591 229.7 C593.8 228.5 599 226.8 603 227 C607 227.2 611.2 228.7 615 230.7 C618.8 232.7 622.9 235.8 626 239 C629.1 242.2 631.4 246 633.4 250 C635.4 254 637.1 258.6 638 262.9 C638.9 267.2 639.2 272.3 639 276 C638.8 279.7 638.2 282.6 637 285 C635.8 287.4 634.2 289 632 290.5 C629.8 292 625.3 293.4 624 294" />
<path class="ln" d="M585.5 238 C586.2 237.4 587.9 235.1 590 234.5 C592.1 233.9 595 233.1 598.4 234.3 C601.8 235.5 606.7 238.5 610.4 241.7 C614.1 244.9 617.7 249.5 620.5 253.7 C623.3 257.9 625.8 262.6 627 266.6 C628.2 270.7 628.4 274.7 628 278 C627.6 281.3 626.2 284.4 624.5 286.5 C622.8 288.6 620.4 289.9 618 290.5 C615.6 291.1 611.3 290.1 610 290" />
<ellipse class="ln" cx="605.8" cy="263.2" rx="10.8" ry="16.6" transform="rotate(-30 605.8 263.2)"/>
<path class="ln" d="M594.5 255 C594.8 254.2 595.4 251.4 596.5 250.5 C597.6 249.6 600.2 249.7 601 249.5" />
<ellipse class="ln" cx="605.2" cy="264.6" rx="3.4" ry="7.8" transform="rotate(-28 605.2 264.6)"/>
<path class="ln" d="M589.7 265 C590.8 266.3 594 270.5 596.1 272.9 C598.2 275.3 599.2 276.4 602.4 279.2 C605.5 282 611.1 286.7 615 289.5 C618.9 292.3 624.2 294.9 626 296" />
<path class="ln" d="M594.5 274.5 C596 276.1 600.6 280.6 603.2 284 C605.8 287.4 607.5 291.8 610.3 295 C613.1 298.2 618.4 301.7 620 303" />
<path class="ln" d="M589.5 281.6 C590.7 283.7 593.8 290.4 596.8 294.2 C599.8 298 604.2 301.9 607.4 304.7 C610.6 307.5 612.5 308.8 615.8 311.1 C619.1 313.4 623.4 316.3 627.4 318.4 C631.4 320.5 636.9 322.7 640 323.7 C643.1 324.7 643.2 324.6 645.8 324.2 C648.3 323.8 653.2 322.4 655.3 321 C657.4 319.6 657.5 318.8 658.4 315.8 C659.3 312.8 659.6 308.8 660.5 303.2 C661.4 297.6 663 289.1 663.7 282.1 C664.4 275.1 664 267.9 664.7 261 C665.4 254.2 667.4 244.3 667.9 241" />
<path class="ln" d="M668.6 224 C670.4 223 677 218.8 679.2 218 C681.4 217.2 681.2 219 681.6 219.2" />
<ellipse class="th" cx="680.4" cy="218.5" rx="3.5" ry="3.5" transform="rotate(0 680.4 218.5)"/>
<path class="ln" d="M659.1 235.8 L682.8 224" />
<path class="ln" d="M676.8 228.7 L682.8 233.4 L691.1 238.2" />
<path class="ln" d="M681.6 233.4 L675.7 245.3 L691.1 247.6" />
<path class="ln" d="M667.9 241 L672.1 267.4 L670 269.5 L672.1 277.9 L678.4 275.8 L679.5 282.1 L677.4 289.5 L682.6 291.6 L677.4 301 L667.9 308.4 L660.5 309.5" />
<path class="ln" d="M675.3 246.3 L683.7 249.5 L682.6 257.9 L687.9 262.1 L696.3 268.4" />
<path class="ln" d="M682.6 273.7 L693.2 272.6 L690 286.3 L693.2 291.6" />
<ellipse class="ln" cx="682.6" cy="302.1" rx="4.5" ry="4.5" transform="rotate(0 682.6 302.1)"/>
<path class="ln" d="M677.4 317.9 L686.8 305.3" />
<path class="ln" d="M680 318 L688 308" />
<ellipse class="ln" cx="650" cy="264.2" rx="5" ry="8" transform="rotate(-25 650 264.2)"/>
<path class="ln" d="M644 283 L648 277 L654 279 L657 285 L652 291 L646 289 L644 283" />
<path class="ln" d="M648 281 L652 288" />
<path class="ln" d="M644 313 L646 307 L652 306 L654 312 L650 317 L645 317 L644 313" />
<ellipse class="ln" cx="620" cy="312.1" rx="5.5" ry="8" transform="rotate(-25 620 312.1)"/>
<path class="ln" d="M616 296.5 C616.2 295.8 616.2 293.3 617 292.5 C617.8 291.7 620 291.2 621 291.5 C622 291.8 623.1 293.1 623 294 C622.9 294.9 620.9 296.5 620.5 297" />
<path class="ln" d="M623 294 C623.8 293.7 625.9 292.3 627.6 292.1 C629.3 291.9 631.8 292.1 633.2 293 C634.6 293.9 635.6 295.6 636 297.6 C636.4 299.6 636.3 303.1 635.5 305 C634.7 306.9 632 308.1 631.3 308.7" />
<path class="ln" d="M638.7 278.3 L640.5 292.1 L642.4 293 L642.4 305.9 L636.8 305.9" />
<path class="ln" d="M638.5 296 L641.5 297 L641 302 L638 301.5 L638.5 296" />
<path class="ln" d="M619.3 291.2 L630.4 288.4 L638.7 282" />
<path class="ln" d="M623 300.4 L630.4 307.8" />
<ellipse class="th" cx="639.5" cy="293.5" rx="1.6" ry="1.6" transform="rotate(0 639.5 293.5)"/>
<path class="ln" d="M626 241 L630 235.5 L636 236 L639 241 L636 247 L630 248 L626 241" />
<ellipse class="ln" cx="640.5" cy="246.5" rx="4.5" ry="5.5" transform="rotate(-20 640.5 246.5)"/>
<path class="ln" d="M634.5 230.5 C634.9 230.2 636.3 228.8 637 229 C637.7 229.2 638.7 230.8 638.5 231.5 C638.3 232.2 636.4 233.2 636 233.5" />
<path class="ln" d="M643 229 L645 240" />
<path class="ln" d="M644 239 L654.5 251 L657.5 248.5 L661 249 L665 253" />
<path class="ln" d="M655 262 L660 270" />
</svg>
</body></html>
